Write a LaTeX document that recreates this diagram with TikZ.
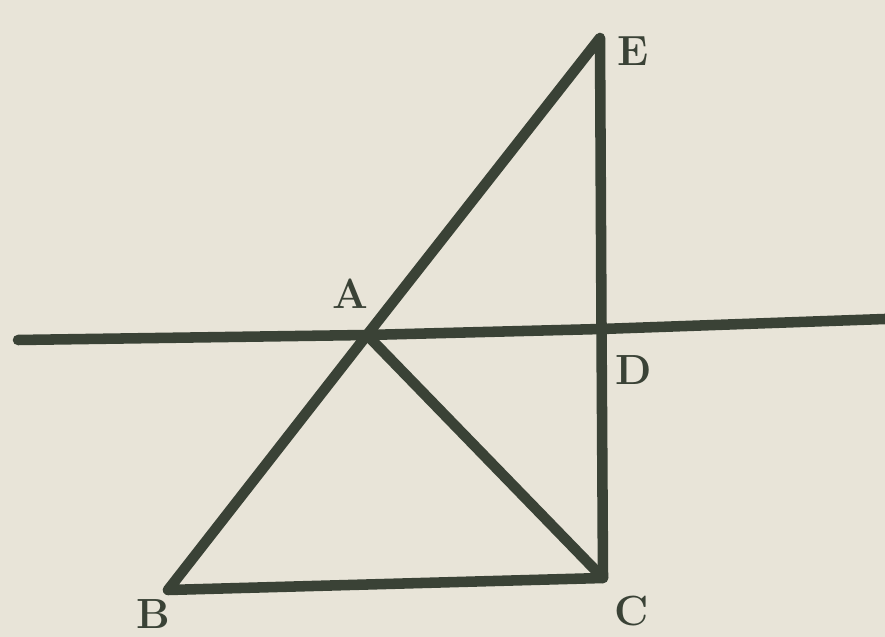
\documentclass[tikz,border=0pt]{standalone}
\usepackage{tikz}
\definecolor{paper}{HTML}{E8E4D8}
\definecolor{ink}{HTML}{3A4236}
\begin{document}
\begin{tikzpicture}[color=ink, line cap=round, line join=round]
  % Background sheet
  \fill[paper] (0,0) rectangle (17.7,12.74);
  \useasboundingbox (0,0) rectangle (17.7,12.74);
  \tikzset{stroke/.style={line width=6pt, draw=ink},
           lbl/.style={font=\fontsize{24}{24}\selectfont\bfseries, text=ink}}
  % Points of the figure
  \coordinate (E) at (12.0,11.98);
  \coordinate (B) at (3.36,0.94);
  \coordinate (C) at (12.06,1.18);
  \coordinate (A) at (7.34,6.04);
  \coordinate (D) at (12.03,6.16);
  \coordinate (L) at (0.36,5.94);
  \coordinate (R) at (17.7,6.36);
  % Lines
  \draw[stroke] (L) -- (A) -- (D) -- (R);
  \draw[stroke] (E) -- (A) -- (B) -- (C) -- (D) -- (E);
  \draw[stroke] (A) -- (C);
  % Letters
  \node[lbl] (labE) at (12.66,11.72) {E};
  \node[lbl] (labA) at (7.0,6.86) {A};
  \node[lbl] (labD) at (12.68,5.34) {D};
  \node[lbl] (labB) at (3.06,0.46) {B};
  \node[lbl] (labC) at (12.64,0.52) {C};
\end{tikzpicture}
\end{document}
